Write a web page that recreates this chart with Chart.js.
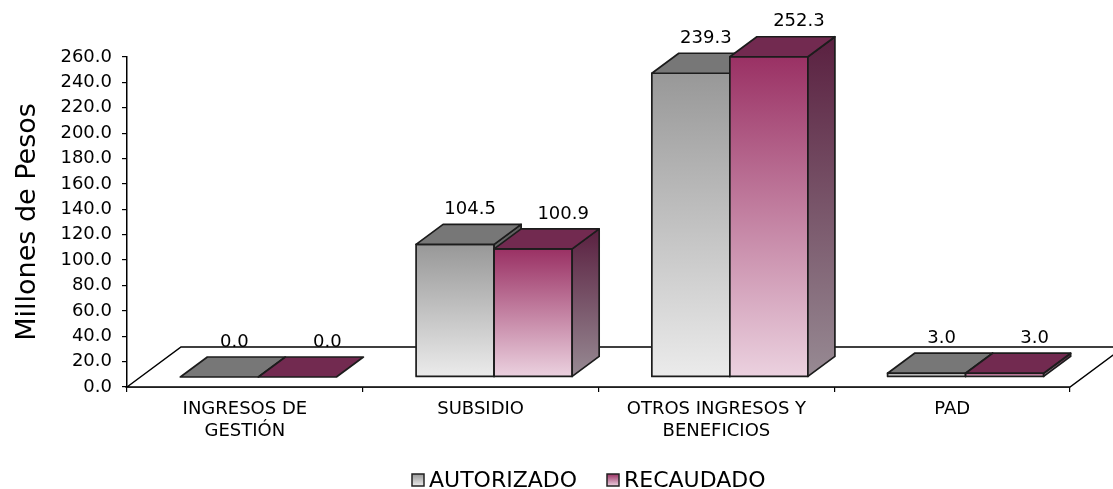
<!DOCTYPE html>
<html>
<head>
<meta charset="utf-8">
<script src="https://cdn.jsdelivr.net/npm/chart.js@4/dist/chart.umd.min.js"></script>
<style>
  html, body { margin: 0; padding: 0; background: #fff; }
  #wrap { width: 1113px; height: 489px; position: relative; }
</style>
</head>
<body>
<div id="wrap"><canvas id="chart"></canvas></div>
<script>
// datos
var categories = [['INGRESOS DE', 'GESTIÓN'], 'SUBSIDIO', ['OTROS INGRESOS Y', 'BENEFICIOS'], 'PAD'];
var autorizado = [0.0, 104.5, 239.3, 3.0];
var recaudado = [0.0, 100.9, 252.3, 3.0];
var seriesNames = ['AUTORIZADO', 'RECAUDADO'];
var yMax = 260;
var yStep = 20;

// look of each series (3D faces)
var looks = [
  { front: ['#989898', '#ebebeb'], side: ['#5e5e5e', '#8c8c8c'], top: '#777777', labelDx: 15 },
  { front: ['#9a3164', '#ebd1df'], side: ['#5a2040', '#978a93'], top: '#722a50', labelDx: 30 }
];
var FONT = '"DejaVu Sans", sans-serif';
var floorD = { x: 54, y: -40 };   // floor depth
var outline = '#1c1c1c';

function poly(ctx, pts, fill) {
  ctx.beginPath();
  ctx.moveTo(pts[0][0], pts[0][1]);
  for (var i = 1; i < pts.length; i++) ctx.lineTo(pts[i][0], pts[i][1]);
  ctx.closePath();
  ctx.fillStyle = fill;
  ctx.fill();
  ctx.stroke();
}

var bars3d = {
  id: 'bars3d',
  beforeDatasetsDraw: function (chart) {
    var ctx = chart.ctx, a = chart.chartArea;
    ctx.save();
    ctx.strokeStyle = '#000';
    ctx.lineWidth = 1.5;
    poly(ctx, [[a.left, a.bottom], [a.left + floorD.x, a.bottom + floorD.y],
               [a.right + floorD.x, a.bottom + floorD.y], [a.right, a.bottom]], '#ffffff');
    ctx.restore();
  },
  afterDatasetsDraw: function (chart) {
    var ctx = chart.ctx;
    var fx = floorD.x / 4, fy = floorD.y / 4;     // front plane of bars
    var dx = floorD.x / 2, dy = floorD.y / 2;     // bar depth
    var metas = [chart.getDatasetMeta(0), chart.getDatasetMeta(1)];
    ctx.save();
    ctx.strokeStyle = outline;
    ctx.lineWidth = 1.7;
    ctx.lineJoin = 'round';
    for (var i = 0; i < categories.length; i++) {
      for (var s = 0; s < 2; s++) {
        var el = metas[s].data[i];
        var L = el.x - el.width / 2 + fx, R = el.x + el.width / 2 + fx;
        var T = el.y + fy, B = el.base + fy;
        var lk = looks[s];
        if (B - T > 0.5) {
          var g = ctx.createLinearGradient(0, T, 0, B);
          g.addColorStop(0, lk.front[0]); g.addColorStop(1, lk.front[1]);
          poly(ctx, [[L, T], [R, T], [R, B], [L, B]], g);
          var gs = ctx.createLinearGradient(0, T + dy, 0, B);
          gs.addColorStop(0, lk.side[0]); gs.addColorStop(1, lk.side[1]);
          poly(ctx, [[R, T], [R + dx, T + dy], [R + dx, B + dy], [R, B]], gs);
        }
        poly(ctx, [[L, T], [L + dx, T + dy], [R + dx, T + dy], [R, T]], lk.top);
      }
    }
    // etiquetas de valor
    ctx.fillStyle = '#000';
    ctx.font = '18px ' + FONT;
    ctx.textAlign = 'center';
    ctx.textBaseline = 'middle';
    for (var j = 0; j < categories.length; j++) {
      for (var k = 0; k < 2; k++) {
        var e = metas[k].data[j];
        var v = chart.data.datasets[k].data[j];
        ctx.fillText(v.toFixed(1), e.x + fx + looks[k].labelDx, e.y + fy - 35);
      }
    }
    ctx.restore();
  },
  afterDraw: function (chart) {
    var ctx = chart.ctx;
    var items = [{ x: 412, text: seriesNames[0], lk: looks[0] }, { x: 607, text: seriesNames[1], lk: looks[1] }];
    ctx.save();
    ctx.font = '22px ' + FONT;
    ctx.textBaseline = 'middle';
    ctx.textAlign = 'left';
    items.forEach(function (it) {
      var g = ctx.createLinearGradient(0, 474, 0, 486);
      g.addColorStop(0, it.lk.front[0]); g.addColorStop(1, it.lk.front[1]);
      ctx.fillStyle = g;
      ctx.fillRect(it.x, 474, 12, 12);
      ctx.strokeStyle = '#222';
      ctx.lineWidth = 1.5;
      ctx.strokeRect(it.x, 474, 12, 12);
      ctx.fillStyle = '#000';
      ctx.fillText(it.text, it.x + 17, 481);
    });
    ctx.restore();
  }
};

var ctx = document.getElementById('chart').getContext('2d');
new Chart(ctx, {
  type: 'bar',
  data: {
    labels: categories,
    datasets: [
      { label: seriesNames[0], data: autorizado, backgroundColor: 'rgba(0,0,0,0)', borderWidth: 0 },
      { label: seriesNames[1], data: recaudado, backgroundColor: 'rgba(0,0,0,0)', borderWidth: 0 }
    ]
  },
  options: {
    responsive: true, maintainAspectRatio: false, animation: false,
    layout: { padding: { top: 57, right: 43, bottom: 0, left: 0 } },
    categoryPercentage: 0.662, barPercentage: 1.0,
    plugins: { legend: { display: false }, tooltip: { enabled: false } },
    scales: {
      x: {
        grid: { drawOnChartArea: false, drawTicks: true, tickLength: 5, color: '#000', lineWidth: 1.2 },
        border: { display: true, color: '#000', width: 1.5 },
        ticks: { color: '#000', font: { family: FONT, size: 18, lineHeight: 1.25 }, padding: 6, maxRotation: 0 },
        afterFit: function (s) { s.height = 102; }
      },
      y: {
        min: 0, max: yMax,
        grid: { drawOnChartArea: false, drawTicks: true, tickLength: 5, color: '#000', lineWidth: 1.2 },
        border: { display: true, color: '#000', width: 1.5 },
        ticks: { stepSize: yStep, color: '#000', font: { family: FONT, size: 18 }, padding: 10,
          callback: function (v) { return v.toFixed(1); } },
        title: { display: true, text: 'Millones de Pesos', color: '#000',
          font: { family: FONT, size: 27 }, padding: { top: 12, bottom: 0 } },
        afterFit: function (s) { s.width = 127; }
      }
    }
  },
  plugins: [bars3d]
});
</script>
</body>
</html>
